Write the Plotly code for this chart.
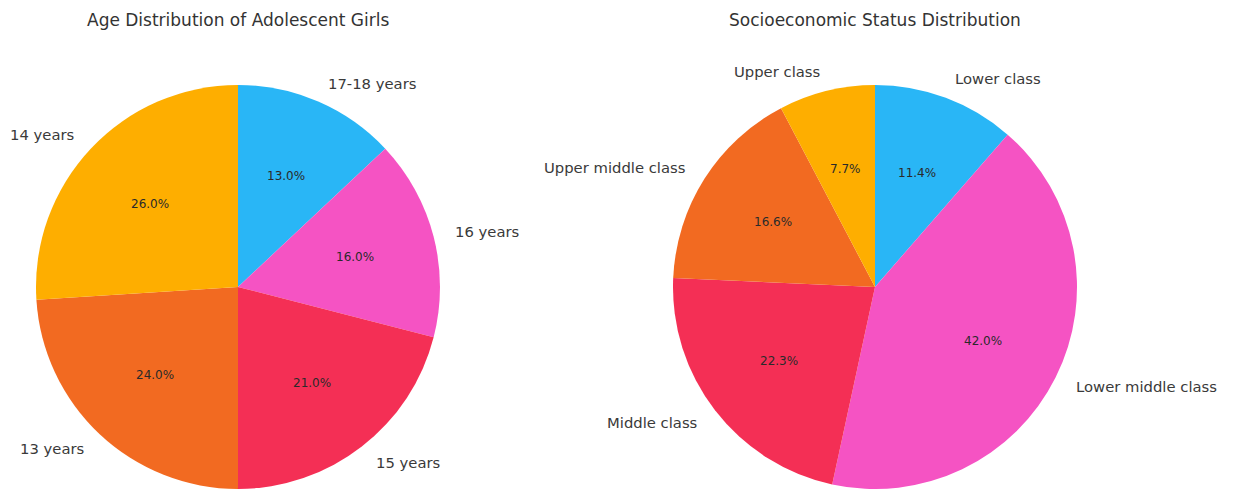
import math
import plotly.graph_objects as go

# Age groups (clockwise from 12 o'clock)
age_labels = ["17-18 years", "16 years", "15 years", "13 years", "14 years"]
age_values = [13.0, 16.0, 21.0, 24.0, 26.0]

# Socioeconomic classes (clockwise from 12 o'clock)
ses_labels = ["Lower class", "Lower middle class", "Middle class", "Upper middle class", "Upper class"]
ses_values = [11.4, 42.0, 22.3, 16.6, 7.7]

slice_colors = ["#29b6f6", "#f553c3", "#f42f55", "#f26a21", "#feae00"]

W, H = 1233, 489
RADIUS = 202  # px

panels = [
    dict(title="Age Distribution of Adolescent Girls", labels=age_labels, values=age_values, cx=238, cy=287),
    dict(title="Socioeconomic Status Distribution", labels=ses_labels, values=ses_values, cx=875, cy=287),
]

fig = go.Figure()
annotations = []
font_family = "DejaVu Sans, sans-serif"

for p in panels:
    cx, cy = p["cx"], p["cy"]
    fig.add_trace(go.Pie(
        labels=p["labels"],
        values=p["values"],
        sort=False,
        direction="clockwise",
        rotation=0,
        marker=dict(colors=slice_colors, line=dict(width=0)),
        textinfo="none",
        hoverinfo="label+percent",
        showlegend=False,
        domain=dict(
            x=[(cx - RADIUS) / W, (cx + RADIUS) / W],
            y=[(H - cy - RADIUS) / H, (H - cy + RADIUS) / H],
        ),
    ))

    total = sum(p["values"])
    cum = 0.0
    for lab, v in zip(p["labels"], p["values"]):
        frac_mid = (cum + v / 2) / total
        cum += v
        ang = math.radians(90 - 360 * frac_mid)
        c, s = math.cos(ang), math.sin(ang)
        # outer category label
        lx = cx + 1.1 * RADIUS * c
        ly = cy - 1.1 * RADIUS * s
        annotations.append(dict(
            x=lx / W, y=1 - ly / H, xref="paper", yref="paper",
            text=lab, showarrow=False,
            xanchor="left" if c > 0 else "right", yanchor="middle",
            font=dict(family=font_family, size=14.8, color="#3a3a3a"),
        ))
        # percentage inside slice
        px_ = cx + 0.6 * RADIUS * c
        py_ = cy - 0.6 * RADIUS * s
        annotations.append(dict(
            x=px_ / W, y=1 - py_ / H, xref="paper", yref="paper",
            text=f"{100 * v / total:.1f}%", showarrow=False,
            xanchor="center", yanchor="middle",
            font=dict(family=font_family, size=12, color="#2a2a2a"),
        ))

    annotations.append(dict(
        x=cx / W, y=1 - 20 / H, xref="paper", yref="paper",
        text=p["title"], showarrow=False,
        xanchor="center", yanchor="middle",
        font=dict(family=font_family, size=17, color="#333333"),
    ))

fig.update_layout(
    width=W, height=H,
    margin=dict(l=0, r=0, t=0, b=0),
    paper_bgcolor="white",
    plot_bgcolor="white",
    annotations=annotations,
)

fig.write_html("out.html")
